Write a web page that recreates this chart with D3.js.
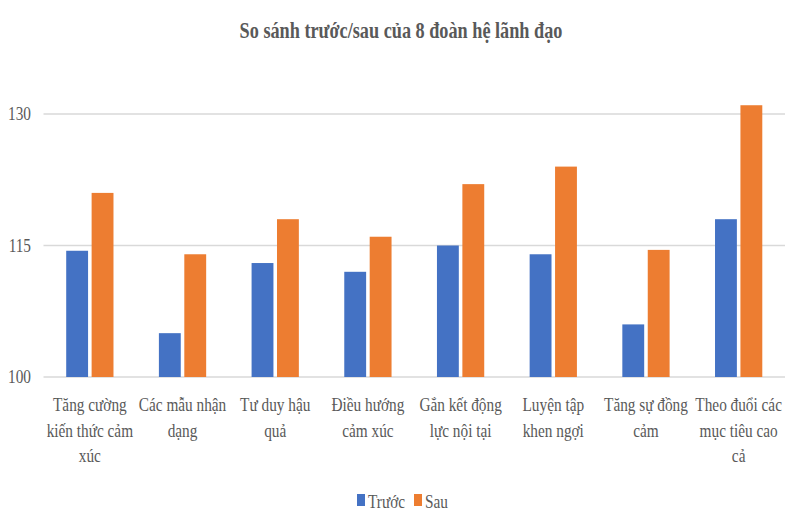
<!DOCTYPE html>
<html>
<head>
<meta charset="utf-8">
<script src="https://cdn.jsdelivr.net/npm/d3@7"></script>
<style>
  body { margin: 0; background: #fff; }
  text { font-family: "Liberation Serif", "Times New Roman", serif; fill: #595959; }
</style>
</head>
<body>
<div id="chart"></div>
<script>
const categories = [
    ["Tăng cường", "kiến thức cảm", "xúc"],
    ["Các mẫu nhận", "dạng"],
    ["Tư duy hậu", "quả"],
    ["Điều hướng", "cảm xúc"],
    ["Gắn kết động", "lực nội tại"],
    ["Luyện tập", "khen ngợi"],
    ["Tăng sự đồng", "cảm"],
    ["Theo đuổi các", "mục tiêu cao", "cả"]
];
const seriesNames = ["Trước", "Sau"];
const truoc = [114.4, 105, 113, 112, 115, 114, 106, 118];
const sau = [121, 114, 118, 116, 122, 124, 114.5, 131];
const yTicks = [100, 115, 130];
const colors = ["#4472C4", "#ED7D31"];

const width = 800, height = 530;
const sx = 0.85; // text looks horizontally squeezed

const left = 43.5, right = 785, y0 = 377, y130 = 114;

const svg = d3.select("#chart").append("svg")
    .attr("width", width)
    .attr("height", height);

const x = d3.scaleBand()
    .domain(d3.range(categories.length))
    .range([left, right])
    .paddingInner(0.49)
    .paddingOuter(0.245);

const xs = d3.scaleBand()
    .domain(seriesNames)
    .range([0, x.bandwidth()])
    .paddingInner(0.14);

const y = d3.scaleLinear()
    .domain([100, 130])
    .range([y0, y130]);

function squeezed(g, tx, ty, str, size, anchor, weight, k) {
    return g.append("text")
        .attr("transform", `translate(${tx},${ty}) scale(${k || sx},1)`)
        .attr("text-anchor", anchor)
        .attr("font-size", size)
        .attr("font-weight", weight || "normal")
        .text(str);
}

// title
squeezed(svg, 401, 38, "So sánh trước/sau của 8 đoàn hệ lãnh đạo", 24, "middle", "bold", 0.76);

// grid
svg.append("g")
    .selectAll("line")
    .data(yTicks)
    .join("line")
    .attr("x1", left)
    .attr("x2", right)
    .attr("y1", d => y(d))
    .attr("y2", d => y(d))
    .attr("stroke", "#d9d9d9")
    .attr("stroke-width", 1.5);

// y tick labels
const yl = svg.append("g");
yTicks.forEach(t => squeezed(yl, 31, y(t) + 6, t, 18, "end"));

// bars
const groups = svg.append("g")
    .selectAll("g")
    .data(categories.map((c, i) => i))
    .join("g")
    .attr("transform", i => `translate(${x(i)},0)`);

groups.selectAll("rect")
    .data(i => [
        { s: seriesNames[0], v: truoc[i], c: colors[0] },
        { s: seriesNames[1], v: sau[i], c: colors[1] }
    ])
    .join("rect")
    .attr("x", d => xs(d.s))
    .attr("width", xs.bandwidth())
    .attr("y", d => y(d.v))
    .attr("height", d => y(100) - y(d.v))
    .attr("fill", d => d.c);

// category labels
const xl = svg.append("g");
categories.forEach((lines, i) => {
    const cx = x(i) + x.bandwidth() / 2;
    lines.forEach((ln, j) => squeezed(xl, cx, 411 + j * 25.5, ln, 18, "middle"));
});

// legend
const lg = svg.append("g");
seriesNames.forEach((s, i) => {
    const lx = [357, 414][i];
    lg.append("rect")
        .attr("x", lx)
        .attr("y", 494)
        .attr("width", 8)
        .attr("height", 12)
        .attr("fill", colors[i]);
    squeezed(lg, lx + 11, 508, s, 18, "start");
});
</script>
</body>
</html>
